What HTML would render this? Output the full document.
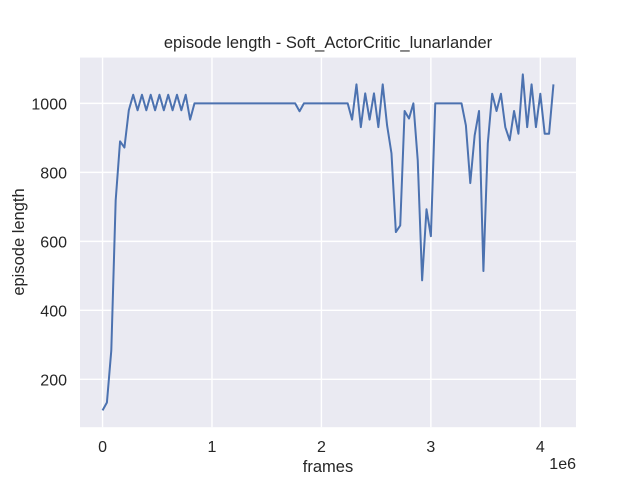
<!DOCTYPE html>
<html><head><meta charset="utf-8"><style>
html,body{margin:0;padding:0;background:#fff;}
svg text{font-family:"Liberation Sans",sans-serif;fill:#262626;}
</style></head><body>
<svg id="chart" width="640" height="480" viewBox="0 0 640 480">
<rect x="0" y="0" width="640" height="480" fill="#fff"/>
<rect x="80" y="57.6" width="496" height="369.6" fill="#eaeaf2"/>
<g id="grid"></g>
<g id="ticks"></g>
<path id="line" fill="none" stroke="#4c72b0" stroke-width="2" stroke-linejoin="round"/>
<text x="328" y="48" font-size="16.5" text-anchor="middle">episode length - Soft_ActorCritic_lunarlander</text>
<text x="328" y="472" font-size="16.5" text-anchor="middle">frames</text>
<text x="576" y="469" font-size="16" text-anchor="end">1e6</text>
<text transform="translate(24,242) rotate(-90)" font-size="16.5" text-anchor="middle">episode length</text>
</svg>
<script>
const frameStep = 40000;
const lengths = [110,133,284,719,890,872,980,1025,980,1025,980,1025,980,1025,980,1025,980,1025,980,1025,953,1000,
1000,1000,1000,1000,1000,1000,1000,1000,1000,1000,1000,1000,1000,1000,1000,1000,1000,1000,1000,1000,1000,1000,1000,
977,1000,1000,1000,1000,1000,1000,1000,1000,1000,1000,1000,
953,1055,931,1029,953,1029,931,1055,936,855,627,646,978,956,1000,835,487,693,615,
1000,1000,1000,1000,1000,1000,1000,936,769,907,978,514,884,1028,978,1028,931,893,978,912,1084,931,1055,931,1028,912,912,1055];
const xTicks = [0,1,2,3,4];
const yTicks = [200,400,600,800,1000];

const L=80,R=576,T=57.6,B=427.2;
const frames = lengths.map((v,i)=>i*frameStep);
const xMaxD = frames[frames.length-1];
const yMinD = Math.min(...lengths), yMaxD = Math.max(...lengths);
const xmin = -0.05*xMaxD, xmax = xMaxD*1.05;
const ymin = yMinD-0.05*(yMaxD-yMinD), ymax = yMaxD+0.05*(yMaxD-yMinD);
const sx = v => L+(v-xmin)/(xmax-xmin)*(R-L);
const sy = v => B-(v-ymin)/(ymax-ymin)*(B-T);
const NS="http://www.w3.org/2000/svg";
const grid=document.getElementById('grid'), ticks=document.getElementById('ticks');
xTicks.forEach(t=>{
  const x=sx(t*1e6);
  const ln=document.createElementNS(NS,'line');
  ln.setAttribute('x1',x);ln.setAttribute('x2',x);ln.setAttribute('y1',T);ln.setAttribute('y2',B);
  ln.setAttribute('stroke','#fff');ln.setAttribute('stroke-width','1.4');
  
  
  grid.appendChild(ln);
  const tx=document.createElementNS(NS,'text');
  tx.setAttribute('x',x);tx.setAttribute('y',452);tx.setAttribute('font-size','16');tx.setAttribute('text-anchor','middle');
  tx.textContent=t;
  
  
  ticks.appendChild(tx);
});
yTicks.forEach(t=>{
  const y=sy(t);
  const ln=document.createElementNS(NS,'line');
  ln.setAttribute('x1',L);ln.setAttribute('x2',R);ln.setAttribute('y1',y);ln.setAttribute('y2',y);
  ln.setAttribute('stroke','#fff');ln.setAttribute('stroke-width','1.4');
  
  
  grid.appendChild(ln);
  const tx=document.createElementNS(NS,'text');
  tx.setAttribute('x',67);tx.setAttribute('y',y+6);tx.setAttribute('font-size','16');tx.setAttribute('text-anchor','end');
  tx.textContent=t;
  
  
  ticks.appendChild(tx);
});
document.getElementById('line').setAttribute('d',
  lengths.map((v,i)=>(i?'L':'M')+sx(frames[i]).toFixed(2)+','+sy(v).toFixed(2)).join(' '));
</script>
</body></html>
